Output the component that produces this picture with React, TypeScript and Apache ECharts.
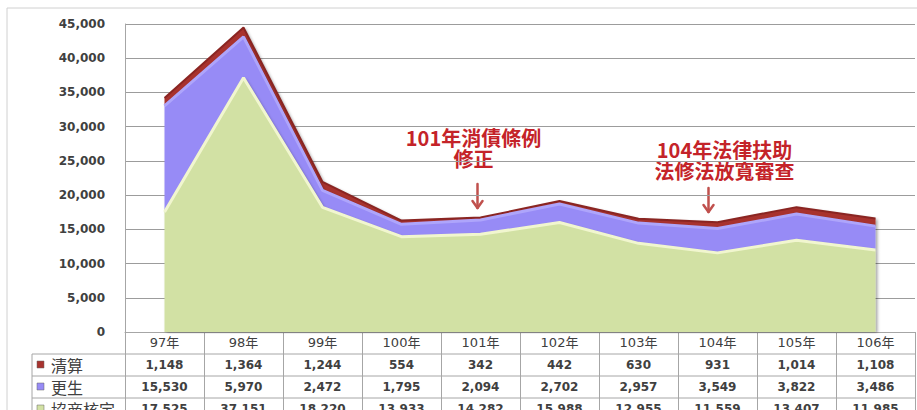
import React, { useEffect, useRef } from "react";
import * as echarts from "echarts";

const categories = ["97年", "98年", "99年", "100年", "101年", "102年", "103年", "104年", "105年", "106年"];
const seriesNames = ["清算", "更生", "協商核定"];
const liquidation = [1148, 1364, 1244, 554, 342, 442, 630, 931, 1014, 1108];
const rehabilitation = [15530, 5970, 2472, 1795, 2094, 2702, 2957, 3549, 3822, 3486];
const negotiation = [17525, 37151, 18220, 13933, 14282, 15988, 12955, 11559, 13407, 11985];
const yTicks = { min: 0, max: 45000, interval: 5000 };
const notes = [
  { lines: ["101年消債條例", "修正"], cat: "101年" },
  { lines: ["104年法律扶助", "法修法放寬審查"], cat: "104年" },
];

const COLORS = { liq: "#a8332f", reh: "#978bf6", neg: "#d2e1a4" };
const GRID = { left: 125, right: 2, top: 24, bottom: 78 };
const W = 917;
const H = 410;

const fmt = (v: number) => v.toLocaleString("en-US");

export default function App() {
  const ref = useRef<HTMLDivElement>(null);
  useEffect(() => {
    if (!ref.current) return;
    const chart = echarts.init(ref.current, null, { renderer: "svg" });
    const gridW = W - GRID.left - GRID.right;
    const cellW = gridW / categories.length;
    const axisY = H - GRID.bottom;
    const rowH = 22;
    const rowTop = axisY + rowH;
    const numFont = "bold 12px 'DejaVu Sans', Verdana, sans-serif";
    const textColor = "#404040";
    const lineColor = "#a6a6a6";

    const graphics: any[] = [];
    graphics.push({
      type: "rect",
      shape: { x: 7, y: 8, width: 920, height: 430 },
      style: { fill: "none", stroke: "#d0d0d0", lineWidth: 1 },
      silent: true,
      z: -1,
    });
    const rows = [
      { name: seriesNames[0], color: COLORS.liq, data: liquidation },
      { name: seriesNames[1], color: COLORS.reh, data: rehabilitation },
      { name: seriesNames[2], color: COLORS.neg, data: negotiation },
    ];
    rows.forEach((r, ri) => {
      const top = rowTop + ri * rowH;
      graphics.push({
        type: "line",
        shape: { x1: 32, y1: top, x2: GRID.left + gridW, y2: top },
        style: { stroke: lineColor, lineWidth: 1 },
        silent: true,
      });
      graphics.push({
        type: "rect",
        shape: { x: 37, y: top + rowH / 2 - 4, width: 7, height: 7 },
        style: { fill: r.color, stroke: "#666", lineWidth: 0.5 },
        silent: true,
      });
      graphics.push({
        type: "text",
        x: 51,
        y: top + rowH / 2,
        style: {
          text: r.name,
          fill: textColor,
          font: "16px 'Noto Sans CJK TC', sans-serif",
          textAlign: "left",
          textVerticalAlign: "middle",
        },
        silent: true,
      });
      r.data.forEach((v, ci) => {
        graphics.push({
          type: "text",
          x: GRID.left + cellW * (ci + 0.5),
          y: top + rowH / 2,
          style: {
            text: fmt(v),
            fill: textColor,
            font: numFont,
            textAlign: "center",
            textVerticalAlign: "middle",
          },
          silent: true,
        });
      });
    });
    graphics.push({
      type: "line",
      shape: { x1: 32, y1: rowTop, x2: 32, y2: H + 10 },
      style: { stroke: lineColor, lineWidth: 1 },
      silent: true,
    });

    const notePos = [
      { dx: -7, ty: [137, 158], a1: 184, a2: 208, adx: -3 },
      { dx: 7, ty: [149, 170], a1: 188, a2: 212, adx: -9 },
    ];
    notes.forEach((n, i) => {
      const ci = categories.indexOf(n.cat);
      const cx = GRID.left + cellW * (ci + 0.5);
      const p = notePos[i];
      n.lines.forEach((line, li) => {
        graphics.push({
          type: "text",
          x: cx + p.dx,
          y: p.ty[li],
          style: {
            text: line,
            fill: "#c42329",
            font: "bold 20px 'Noto Sans CJK TC', sans-serif",
            textAlign: "center",
            textVerticalAlign: "middle",
          },
          silent: true,
        });
      });
      const ax = cx + p.adx;
      graphics.push({
        type: "line",
        shape: { x1: ax, y1: p.a1, x2: ax, y2: p.a2 },
        style: { stroke: "#c0504d", lineWidth: 2.5, lineCap: "round" },
        silent: true,
      });
      graphics.push({
        type: "polyline",
        shape: { points: [[ax - 5, p.a2 - 7], [ax, p.a2], [ax + 5, p.a2 - 7]] },
        style: { stroke: "#c0504d", lineWidth: 2.5, fill: "none", lineCap: "round", lineJoin: "round" },
        silent: true,
      });
    });

    const shadow = {
      shadowColor: "rgba(0,0,0,0.35)",
      shadowBlur: 3,
      shadowOffsetX: 2,
      shadowOffsetY: 1,
    };

    chart.setOption({
      animation: false,
      grid: { ...GRID, containLabel: false },
      xAxis: {
        type: "category",
        data: categories,
        boundaryGap: true,
        axisLine: { show: true, lineStyle: { color: lineColor } },
        axisTick: { show: true, interval: 0, length: H - axisY + 10, lineStyle: { color: lineColor } },
        axisLabel: {
          margin: 4,
          color: textColor,
          fontSize: 13,
          fontFamily: "'DejaVu Sans', 'Noto Sans CJK TC', sans-serif",
          interval: 0,
        },
      },
      yAxis: {
        type: "value",
        min: yTicks.min,
        max: yTicks.max,
        interval: yTicks.interval,
        axisLine: { show: true, lineStyle: { color: lineColor } },
        axisTick: { show: false },
        splitLine: { show: true, lineStyle: { color: "#9c9c9c" } },
        axisLabel: {
          margin: 20,
          color: textColor,
          fontSize: 12,
          fontWeight: "bold",
          fontFamily: "'DejaVu Sans', Verdana, sans-serif",
          formatter: (v: number) => fmt(v),
        },
      },
      series: [
        {
          name: seriesNames[2],
          type: "line",
          stack: "total",
          data: negotiation,
          symbol: "none",
          lineStyle: { color: "#f1f6cf", width: 3 },
          areaStyle: { color: COLORS.neg, opacity: 1, ...shadow },
          z: 4,
        },
        {
          name: seriesNames[1],
          type: "line",
          stack: "total",
          data: rehabilitation,
          symbol: "none",
          lineStyle: { color: "#aea5fb", width: 3 },
          areaStyle: { color: COLORS.reh, opacity: 1, ...shadow },
          z: 3,
        },
        {
          name: seriesNames[0],
          type: "line",
          stack: "total",
          data: liquidation,
          symbol: "none",
          lineStyle: { color: "#8a2522", width: 2 },
          areaStyle: { color: COLORS.liq, opacity: 1, ...shadow },
          z: 2,
        },
      ],
      graphic: graphics,
    });
    return () => chart.dispose();
  }, []);
  return (
    <div
      ref={ref}
      style={{ position: "absolute", left: 0, top: 0, width: W, height: H, background: "#fff" }}
    />
  );
}
